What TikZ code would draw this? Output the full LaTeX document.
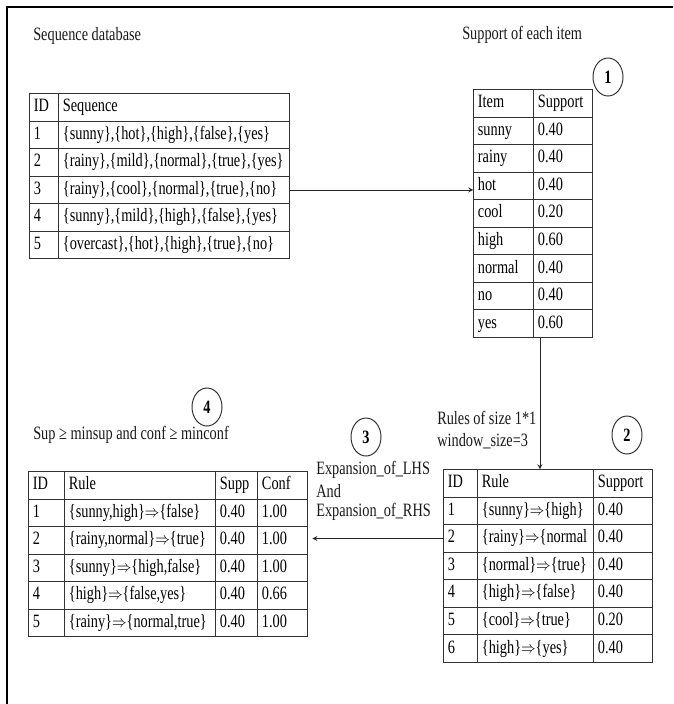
\documentclass[tikz,border=0pt]{standalone}
\usepackage{graphicx}
\usepackage{fontspec}
\setmainfont{Liberation Serif}[FakeStretch=0.76]
\usetikzlibrary{matrix,shapes.geometric}

\newcommand{\ruleto}{\scalebox{0.72}[0.85]{$\Rightarrow$}}

\begin{document}
\begin{tikzpicture}[x=0.025cm,y=-0.025cm,
  font=\fontsize{13.4}{15}\selectfont,
  tbl/.style={matrix of nodes,ampersand replacement=\&,anchor=north west,inner sep=0pt,
    column sep=-0.6pt,row sep=-0.6pt,
    nodes={draw=black!80,line width=0.6pt,anchor=center,align=left,
      inner xsep=3pt,inner ysep=0pt,minimum height=0.6875cm,
      text height=9.2pt,text depth=2.8pt}},
  num/.style={ellipse,draw=black!80,line width=0.7pt,minimum width=0.75cm,
    minimum height=0.95cm,inner sep=0pt,font=\fontsize{13.4}{15}\selectfont\bfseries},
  lbl/.style={anchor=west,inner sep=0pt,text=black!90},
  arr/.style={->,>=stealth,line width=0.6pt,draw=black!85}]
  \useasboundingbox (0,0) rectangle (673,704);

  % outer frame (top and left edge only)
  \draw[line width=0.9pt] (7,704) -- (7,7) -- (673,7);

  % sequence database
  \node[lbl] (seqtitle) at (33,36) {Sequence database};
  \matrix[tbl,column 1/.style={nodes={text width=0.514cm}},
    column 2/.style={nodes={text width=5.564cm}}] (seq) at (29,93) {
    ID \& Sequence \\
    1 \& \{sunny\},\{hot\},\{high\},\{false\},\{yes\} \\
    2 \& \{rainy\},\{mild\},\{normal\},\{true\},\{yes\} \\
    3 \& \{rainy\},\{cool\},\{normal\},\{true\},\{no\} \\
    4 \& \{sunny\},\{mild\},\{high\},\{false\},\{yes\} \\
    5 \& \{overcast\},\{hot\},\{high\},\{true\},\{no\} \\
  };

  % support of each item
  \node[lbl] (itemtitle) at (462,35) {Support of each item};
  \node[num] (num1) at (608,77) {1};
  \matrix[tbl,column 1/.style={nodes={text width=1.289cm}},
    column 2/.style={nodes={text width=1.264cm}}] (item) at (473,89) {
    Item \& Support \\
    sunny \& 0.40 \\
    rainy \& 0.40 \\
    hot \& 0.40 \\
    cool \& 0.20 \\
    high \& 0.60 \\
    normal \& 0.40 \\
    no \& 0.40 \\
    yes \& 0.60 \\
  };

  % rules of size 1*1
  \node[lbl] (rulestitle) at (437,418) {Rules of size 1*1};
  \node[lbl] (window) at (437,441) {window\_size=3};
  \node[num] (num2) at (627,435) {2};
  \matrix[tbl,column 1/.style={nodes={text width=0.639cm}},
    column 2/.style={nodes={text width=2.689cm}},
    column 3/.style={nodes={text width=1.264cm}}] (rules) at (443,469) {
    ID \& Rule \& Support \\
    1 \& \{sunny\}\ruleto\{high\} \& 0.40 \\
    2 \& \{rainy\}\ruleto\{normal \& 0.40 \\
    3 \& \{normal\}\ruleto\{true\} \& 0.40 \\
    4 \& \{high\}\ruleto\{false\} \& 0.40 \\
    5 \& \{cool\}\ruleto\{true\} \& 0.20 \\
    6 \& \{high\}\ruleto\{yes\} \& 0.40 \\
  };

  % expansion step
  \node[num] (num3) at (366,437) {3};
  \node[lbl] (lhs) at (316,470) {Expansion\_of\_LHS};
  \node[lbl] (and) at (316,491) {And};
  \node[lbl] (rhs) at (316,512) {Expansion\_of\_RHS};

  % final rules
  \node[num] (num4) at (207,407) {4};
  \node[lbl] (filter) at (33,435) {Sup ≥ minsup and conf ≥ minconf};
  \matrix[tbl,column 1/.style={nodes={text width=0.689cm}},
    column 2/.style={nodes={text width=3.564cm}},
    column 3/.style={nodes={text width=0.839cm}},
    column 4/.style={nodes={text width=1.039cm}}] (final) at (28,471) {
    ID \& Rule \& Supp \& Conf \\
    1 \& \{sunny,high\}\ruleto\{false\} \& 0.40 \& 1.00 \\
    2 \& \{rainy,normal\}\ruleto\{true\} \& 0.40 \& 1.00 \\
    3 \& \{sunny\}\ruleto\{high,false\} \& 0.40 \& 1.00 \\
    4 \& \{high\}\ruleto\{false,yes\} \& 0.40 \& 0.66 \\
    5 \& \{rainy\}\ruleto\{normal,true\} \& 0.40 \& 1.00 \\
  };

  % connectors
  \draw[arr] (seq-4-2.east) -- (seq-4-2.east -| item-4-1.west);
  \draw[arr] ([xshift=5\pgflinewidth]rules-1-2.north |- item-9-2.south) -- ([xshift=5\pgflinewidth]rules-1-2.north);
  \draw[arr,shorten >=3pt] (rules-3-1.west) -- (rules-3-1.west -| final-3-4.east);
\end{tikzpicture}
\end{document}
